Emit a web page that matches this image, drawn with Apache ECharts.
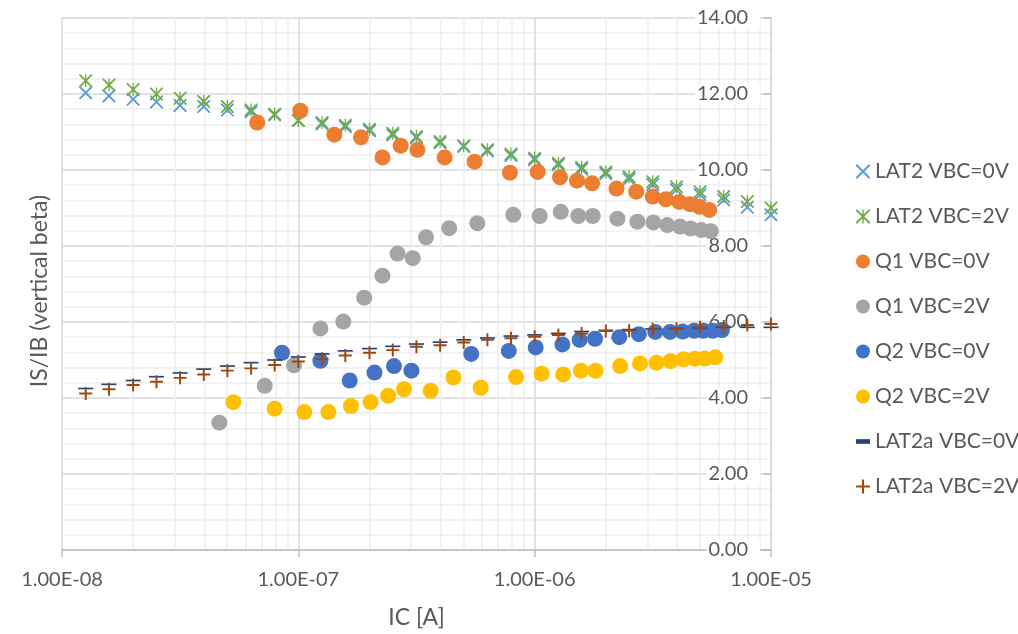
<!DOCTYPE html>
<html>
<head>
<meta charset="utf-8">
<script src="https://cdn.jsdelivr.net/npm/echarts@6/dist/echarts.min.js"></script>
<style>
html,body{margin:0;padding:0;background:#fff;}
#chart{width:1018px;height:634px;}
</style>
</head>
<body>
<div id="chart"></div>
<script>
// ---- data ----
const icLat = [1.26e-8,1.58e-8,2.00e-8,2.51e-8,3.16e-8,3.98e-8,5.01e-8,6.31e-8,7.94e-8,1.00e-7,
  1.26e-7,1.58e-7,2.00e-7,2.51e-7,3.16e-7,3.98e-7,5.01e-7,6.31e-7,7.94e-7,1.00e-6,
  1.26e-6,1.58e-6,2.00e-6,2.51e-6,3.16e-6,3.98e-6,5.01e-6,6.31e-6,7.94e-6,1.00e-5];
const lat2Vbc0 = [12.03,11.95,11.86,11.79,11.70,11.67,11.58,11.53,11.45,11.30,
  11.21,11.14,11.03,10.92,10.85,10.72,10.62,10.50,10.38,10.27,
  10.14,10.02,9.90,9.76,9.62,9.48,9.35,9.21,9.02,8.82];
const lat2Vbc2 = [12.35,12.24,12.12,12.00,11.89,11.80,11.67,11.58,11.47,11.30,
  11.25,11.18,11.07,10.97,10.88,10.75,10.64,10.53,10.42,10.31,
  10.18,10.07,9.95,9.82,9.69,9.56,9.43,9.30,9.17,9.00];
const lat2aVbc0 = [4.25,4.36,4.46,4.56,4.66,4.76,4.84,4.93,5.00,5.08,
  5.16,5.24,5.30,5.36,5.42,5.47,5.53,5.58,5.63,5.66,
  5.70,5.75,5.78,5.80,5.82,5.83,5.85,5.86,5.86,5.86];
const lat2aVbc2 = [4.12,4.23,4.34,4.43,4.53,4.62,4.72,4.78,4.87,4.96,
  5.03,5.12,5.19,5.26,5.35,5.39,5.46,5.53,5.57,5.61,
  5.66,5.70,5.76,5.77,5.81,5.82,5.86,5.88,5.92,5.95];

const icQ1v0 = [6.70e-8,1.02e-7,1.42e-7,1.84e-7,2.27e-7,2.71e-7,3.19e-7,4.16e-7,5.57e-7,7.86e-7,
  1.03e-6,1.28e-6,1.51e-6,1.75e-6,2.22e-6,2.69e-6,3.16e-6,3.59e-6,4.09e-6,4.54e-6,4.98e-6,5.48e-6];
const q1Vbc0 = [11.25,11.56,10.93,10.86,10.33,10.64,10.53,10.33,10.22,9.93,
  9.95,9.81,9.72,9.65,9.51,9.43,9.30,9.23,9.16,9.10,9.03,8.95];

const icQ1v2 = [4.63e-8,7.21e-8,9.59e-8,1.24e-7,1.55e-7,1.90e-7,2.27e-7,2.63e-7,3.05e-7,3.47e-7,
  4.35e-7,5.72e-7,8.12e-7,1.05e-6,1.29e-6,1.53e-6,1.76e-6,2.24e-6,2.72e-6,3.18e-6,
  3.64e-6,4.12e-6,4.57e-6,5.07e-6,5.56e-6];
const q1Vbc2 = [3.35,4.32,4.86,5.83,6.01,6.64,7.22,7.80,7.68,8.23,
  8.47,8.60,8.82,8.79,8.90,8.79,8.79,8.72,8.64,8.62,
  8.55,8.51,8.46,8.42,8.39];

const icQ2v0 = [8.53e-8,1.24e-7,1.65e-7,2.10e-7,2.54e-7,3.01e-7,5.39e-7,7.77e-7,1.01e-6,1.31e-6,
  1.55e-6,1.80e-6,2.28e-6,2.76e-6,3.24e-6,3.74e-6,4.23e-6,4.73e-6,5.17e-6,5.67e-6,6.20e-6];
const q2Vbc0 = [5.19,4.98,4.46,4.67,4.84,4.72,5.16,5.24,5.33,5.41,
  5.53,5.56,5.60,5.68,5.74,5.74,5.75,5.77,5.77,5.77,5.79];

const icQ2v2 = [5.31e-8,7.94e-8,1.06e-7,1.34e-7,1.67e-7,2.02e-7,2.40e-7,2.80e-7,3.63e-7,4.53e-7,
  5.91e-7,8.34e-7,1.07e-6,1.32e-6,1.57e-6,1.81e-6,2.30e-6,2.79e-6,3.28e-6,3.76e-6,
  4.26e-6,4.76e-6,5.24e-6,5.81e-6];
const q2Vbc2 = [3.89,3.72,3.63,3.63,3.79,3.89,4.06,4.23,4.19,4.54,
  4.27,4.55,4.64,4.62,4.72,4.72,4.84,4.91,4.93,4.97,
  5.02,5.03,5.04,5.07];

const seriesNames = ['LAT2 VBC=0V','LAT2 VBC=2V','Q1 VBC=0V','Q1 VBC=2V','Q2 VBC=0V','Q2 VBC=2V','LAT2a VBC=0V','LAT2a VBC=2V'];
const xAxisTitle = 'IC [A]';
const yAxisTitle = 'IS/IB (vertical beta)';

// ---- styling ----
const FONT = 'Lato, "Liberation Sans", sans-serif';
const TXT = '#595959';
const SYM_X = 'path://M0,0L2,0L10,8L18,0L20,0L20,2L12,10L20,18L20,20L18,20L10,12L2,20L0,20L0,18L8,10L0,2Z';
const SYM_STAR = 'path://M0,0L2,0L10,8L18,0L20,0L20,2L12,10L20,18L20,20L18,20L10,12L2,20L0,20L0,18L8,10L0,2ZM9,0L11,0L11,20L9,20Z';
const SYM_PLUS = 'path://M8.5,0L11.5,0L11.5,8.5L20,8.5L20,11.5L11.5,11.5L11.5,20L8.5,20L8.5,11.5L0,11.5L0,8.5L8.5,8.5Z';
const SYM_DASH = 'path://M0,0L15,0L15,5L0,5Z';

function pairs(xs, ys){ return xs.map((x,i)=>[x, ys[i]]); }

function sc(name, xs, ys, color, symbol, size){
  return {
    name: name, type: 'scatter', data: pairs(xs, ys),
    symbol: symbol, symbolSize: size, symbolKeepAspect: true,
    itemStyle: {color: color, opacity: 1},
    emphasis: {disabled: true}, yAxisIndex: 0
  };
}

function fmtE(v){
  const s = v.toExponential(2).toUpperCase();
  const parts = s.split('E');
  let e = parseInt(parts[1], 10);
  const sign = e < 0 ? '-' : '+';
  e = Math.abs(e);
  return parts[0] + 'E' + sign + (e < 10 ? '0' + e : '' + e);
}

const chart = echarts.init(document.getElementById('chart'));
chart.setOption({
  animation: false,
  textStyle: {fontFamily: FONT},
  grid: {left: 62, right: 247, top: 18, bottom: 84, containLabel: false},
  legend: {
    orient: 'vertical', left: 851, top: 156,
    itemWidth: 14, itemHeight: 14, itemGap: 24,
    selectedMode: false,
    textStyle: {fontSize: 21, color: TXT, fontFamily: FONT},
    data: seriesNames
  },
  xAxis: {
    type: 'log', logBase: 10, min: 1e-8, max: 1e-5,
    name: xAxisTitle, nameLocation: 'middle', nameGap: 56,
    nameTextStyle: {fontSize: 23, color: TXT, fontFamily: FONT},
    axisLine: {show: true, lineStyle: {color: '#BFBFBF', width: 1.5}},
    axisTick: {show: true, length: 7, lineStyle: {color: '#BFBFBF', width: 1.5}},
    axisLabel: {fontSize: 20, color: TXT, margin: 20, formatter: fmtE, fontFamily: FONT},
    splitLine: {show: true, lineStyle: {color: '#D9D9D9', width: 1.5}},
    minorTick: {show: false, splitNumber: 9},
    minorSplitLine: {show: true, lineStyle: {color: '#EEEEEE', width: 1.5}}
  },
  yAxis: [{
    type: 'value', position: 'left', min: 0, max: 14, interval: 2,
    name: yAxisTitle, nameLocation: 'middle', nameRotate: 90, nameGap: 11,
    nameTextStyle: {fontSize: 23, color: TXT, fontFamily: FONT, padding: [0, 14, 0, 0]},
    axisLine: {show: false}, axisTick: {show: false}, axisLabel: {show: false},
    splitLine: {show: true, lineStyle: {color: '#D9D9D9', width: 1.5}},
    minorTick: {show: false, splitNumber: 5},
    minorSplitLine: {show: true, lineStyle: {color: '#EEEEEE', width: 1.5}}
  }, {
    type: 'value', position: 'right', min: 0, max: 14, interval: 2,
    axisLine: {show: true, lineStyle: {color: '#D9D9D9', width: 1.5}},
    axisTick: {show: true, inside: true, length: 8, lineStyle: {color: '#BFBFBF', width: 1.5}},
    axisLabel: {inside: true, margin: 11, fontSize: 20, color: TXT, fontFamily: FONT,
      backgroundColor: '#ffffff', padding: [0, 12, 0, 2],
      formatter: function(v){ return v.toFixed(2); }},
    splitLine: {show: false}
  }],
  series: [
    sc(seriesNames[0], icLat, lat2Vbc0, '#5B9BD5', SYM_X, 13),
    sc(seriesNames[1], icLat, lat2Vbc2, '#70AD47', SYM_STAR, 13),
    sc(seriesNames[2], icQ1v0, q1Vbc0, '#ED7D31', 'circle', 16),
    sc(seriesNames[3], icQ1v2, q1Vbc2, '#A5A5A5', 'circle', 16),
    sc(seriesNames[4], icQ2v0, q2Vbc0, '#4472C4', 'circle', 16),
    sc(seriesNames[5], icQ2v2, q2Vbc2, '#FFC000', 'circle', 16),
    sc(seriesNames[6], icLat, lat2aVbc0, '#264478', SYM_DASH, [15, 5]),
    sc(seriesNames[7], icLat, lat2aVbc2, '#9E480E', SYM_PLUS, 13)
  ]
});
</script>
</body>
</html>
